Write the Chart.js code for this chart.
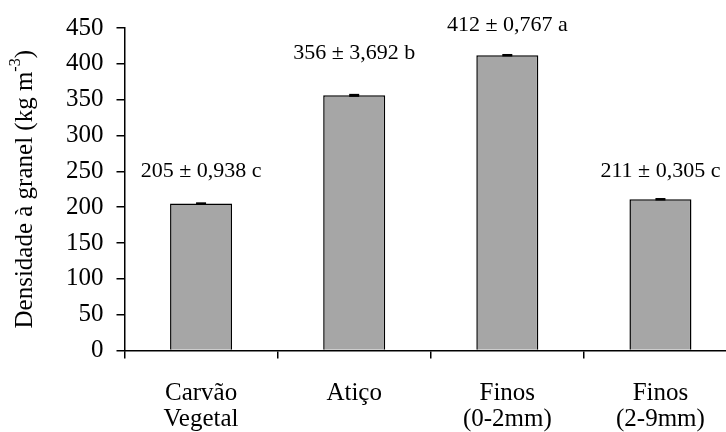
<!DOCTYPE html>
<html>
<head>
<meta charset="utf-8">
<script src="https://cdn.jsdelivr.net/npm/chart.js@4.4.1/dist/chart.umd.min.js"></script>
<style>
  html, body { margin: 0; padding: 0; background: #fff; overflow: hidden; height: 432px; }
  canvas { display: block; }
</style>
</head>
<body>
<canvas id="chart" width="738" height="455"></canvas>
<script>
const categories = [['Carvão', 'Vegetal'], ['Atiço'], ['Finos', '(0-2mm)'], ['Finos', '(2-9mm)']];
const densities = [205, 356, 412, 211];
const errors = [0.938, 3.692, 0.767, 0.305];
const groups = ['c', 'b', 'a', 'c'];
const yMin = 0, yMax = 450, yStep = 50;

const serif = '"Liberation Serif", "Times New Roman", serif';
// how far above each bar top its label sits, px
const labelLift = [32, 42, 30, 28];

const fmt = v => v.toFixed(3).replace('.', ',');

const extras = {
  id: 'extras',
  afterDatasetsDraw(chart) {
    const { ctx, scales: { x, y }, chartArea } = chart;
    const meta = chart.getDatasetMeta(0);
    ctx.save();
    // error bars (tiny, drawn as a short thick mark)
    ctx.fillStyle = '#000';
    meta.data.forEach((bar, i) => {
      const top = y.getPixelForValue(densities[i] + errors[i]);
      const bot = y.getPixelForValue(densities[i] - errors[i]);
      const h = Math.max(2.5, Math.min(3, bot - top));
      ctx.fillRect(bar.x - 5, (top + bot) / 2 - h / 2, 10, h);
    });
    // value labels
    ctx.font = '22px ' + serif;
    ctx.textAlign = 'center';
    ctx.textBaseline = 'middle';
    meta.data.forEach((bar, i) => {
      const txt = densities[i] + ' \u00b1 ' + fmt(errors[i]) + ' ' + groups[i];
      ctx.fillText(txt, bar.x, y.getPixelForValue(densities[i]) - labelLift[i]);
    });
    // y title with superscript
    const cy = (chartArea.top + chartArea.bottom) / 2;
    ctx.translate(25, cy);
    ctx.rotate(-Math.PI / 2);
    ctx.textAlign = 'left';
    const main = 'Densidade à granel (kg m';
    ctx.font = '25px ' + serif;
    const w1 = ctx.measureText(main).width;
    const w3 = ctx.measureText(')').width;
    ctx.font = '16px ' + serif;
    const w2 = ctx.measureText('-3').width;
    let sx = -(w1 + w2 + w3) / 2;
    ctx.font = '25px ' + serif;
    ctx.fillText(main, sx, 0);
    ctx.font = '16px ' + serif;
    ctx.fillText('-3', sx + w1, -9);
    ctx.font = '25px ' + serif;
    ctx.fillText(')', sx + w1 + w2, 0);
    ctx.restore();
  }
};

new Chart(document.getElementById('chart'), {
  type: 'bar',
  data: {
    labels: categories,
    datasets: [{
      data: densities,
      backgroundColor: '#a6a6a6',
      borderColor: '#000',
      borderWidth: 1.5,
      barPercentage: 0.405,
      categoryPercentage: 1
    }]
  },
  options: {
    responsive: false,
    animation: false,
    layout: { padding: { left: 53, top: 9, right: 1, bottom: 0 } },
    plugins: { legend: { display: false }, tooltip: { enabled: false } },
    scales: {
      x: {
        border: { color: '#000', width: 1.5 },
        grid: { drawOnChartArea: false, tickLength: 8, color: '#000', lineWidth: 1.5, offset: true },
        ticks: { color: '#000', font: { family: serif, size: 25, lineHeight: 1.05 }, padding: 22, maxRotation: 0 }
      },
      y: {
        min: yMin, max: yMax,
        border: { color: '#000', width: 1.5 },
        grid: { drawOnChartArea: false, tickLength: 8, color: '#000', lineWidth: 1.5 },
        ticks: { stepSize: yStep, color: '#000', font: { family: serif, size: 25 }, padding: 13 }
      }
    }
  },
  plugins: [extras]
});
</script>
</body>
</html>
